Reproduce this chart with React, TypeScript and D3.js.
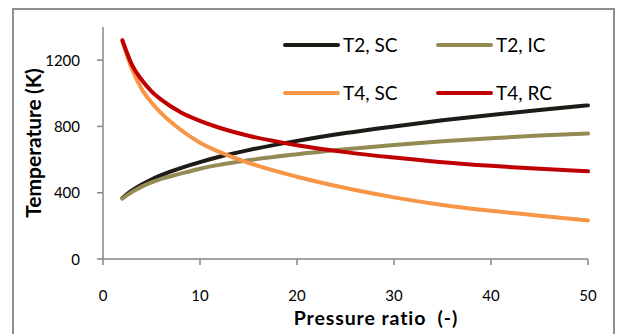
import { useRef, useEffect } from 'react';
import * as d3 from 'd3';

const W = 617;
const H = 334;
const M = { top: 27, right: 29, bottom: 75, left: 103 };

const pressureRatios = [2, 3, 4, 5, 6, 8, 10, 12, 15, 20, 25, 30, 35, 40, 45, 50];
const t2Sc = [368, 414, 450, 480, 506, 549, 585, 617, 657, 713, 760, 800, 837, 869, 899, 927];
const t2Ic = [365, 405, 437, 462, 483, 515, 545, 568, 596, 632, 662, 688, 710, 729, 745, 758];
const t4Sc = [1312, 1145, 1025, 945, 880, 780, 702, 646, 580, 496, 428, 372, 326, 291, 261, 233];
const t4Rc = [1320, 1170, 1080, 1012, 962, 886, 834, 792, 744, 687, 645, 612, 584, 562, 544, 529];

const seriesNames = ['T2, SC', 'T2, IC', 'T4, SC', 'T4, RC'];
const seriesColors = ['#1e1a16', '#948a54', '#f79646', '#c00000'];
const seriesValues = [t2Sc, t2Ic, t4Sc, t4Rc];

const xTicks = [0, 10, 20, 30, 40, 50];
const yTicks = [0, 400, 800, 1200];

const FONT = 'Lato, "Open Sans", sans-serif';

export default function App() {
  const svgRef = useRef<SVGSVGElement>(null);

  useEffect(() => {
    const svg = d3.select(svgRef.current);
    svg.selectAll('*').remove();

    const innerW = W - M.left - M.right;
    const innerH = H - M.top - M.bottom;

    svg.append('rect').attr('width', W).attr('height', H).attr('fill', '#fff');

    // outer frame (bottom edge sits below the picture)
    svg
      .append('rect')
      .attr('x', 13)
      .attr('y', 9)
      .attr('width', 601)
      .attr('height', 340)
      .attr('fill', 'none')
      .attr('stroke', '#8f8f8f')
      .attr('stroke-width', 2);

    const x = d3.scaleLinear().domain([0, 50]).range([M.left, M.left + innerW]);
    const y = d3.scaleLinear().domain([0, 1400]).range([M.top + innerH, M.top]);

    const axisColor = '#868686';

    // axes
    svg
      .append('line')
      .attr('x1', x(0))
      .attr('x2', x(0))
      .attr('y1', y(1400))
      .attr('y2', y(0))
      .attr('stroke', axisColor)
      .attr('stroke-width', 1.5);
    svg
      .append('line')
      .attr('x1', x(0))
      .attr('x2', x(50))
      .attr('y1', y(0))
      .attr('y2', y(0))
      .attr('stroke', axisColor)
      .attr('stroke-width', 1.5);

    yTicks.forEach((t) => {
      svg
        .append('line')
        .attr('x1', x(0) - 6)
        .attr('x2', x(0))
        .attr('y1', y(t))
        .attr('y2', y(t))
        .attr('stroke', axisColor)
        .attr('stroke-width', 1.5);
      svg
        .append('text')
        .attr('x', 80)
        .attr('y', y(t) + 5.5)
        .attr('text-anchor', 'end')
        .attr('fill', '#000')
        .attr('font-family', FONT)
        .attr('font-size', 15)
        .text(t);
    });

    xTicks.forEach((t) => {
      svg
        .append('line')
        .attr('x1', x(t))
        .attr('x2', x(t))
        .attr('y1', y(0))
        .attr('y2', y(0) + 6)
        .attr('stroke', axisColor)
        .attr('stroke-width', 1.5);
      svg
        .append('text')
        .attr('x', x(t))
        .attr('y', 301)
        .attr('text-anchor', 'middle')
        .attr('fill', '#000')
        .attr('font-family', FONT)
        .attr('font-size', 15)
        .text(t);
    });

    // axis titles
    svg
      .append('text')
      .attr('x', 376)
      .attr('y', 325)
      .attr('text-anchor', 'middle')
      .attr('font-family', FONT)
      .attr('font-weight', 700)
      .attr('font-size', 19.5)
      .attr('letter-spacing', 0.9)
      .style('white-space', 'pre')
      .text('Pressure ratio  (-)');

    svg
      .append('text')
      .attr('transform', 'rotate(-90)')
      .attr('x', -143)
      .attr('y', 41)
      .attr('text-anchor', 'middle')
      .attr('font-family', FONT)
      .attr('font-weight', 700)
      .attr('font-size', 21)
      .text('Temperature (K)');

    // series
    const line = d3
      .line<[number, number]>()
      .x((d) => x(d[0]))
      .y((d) => y(d[1]))
      .curve(d3.curveMonotoneX);

    seriesValues.forEach((vals, i) => {
      const pts = pressureRatios.map((p, j) => [p, vals[j]] as [number, number]);
      svg
        .append('path')
        .attr('d', line(pts))
        .attr('fill', 'none')
        .attr('stroke', seriesColors[i])
        .attr('stroke-width', 4)
        .attr('stroke-linecap', 'round')
        .attr('stroke-linejoin', 'round');
    });

    // legend
    const legendPos = [
      [285, 45],
      [438, 45],
      [285, 93],
      [438, 93],
    ];
    seriesNames.forEach((name, i) => {
      const [lx, ly] = legendPos[i];
      svg
        .append('line')
        .attr('x1', lx)
        .attr('x2', lx + 53)
        .attr('y1', ly)
        .attr('y2', ly)
        .attr('stroke', seriesColors[i])
        .attr('stroke-width', 4)
        .attr('stroke-linecap', 'round');
      svg
        .append('text')
        .attr('x', lx + 58)
        .attr('y', ly + 7)
        .attr('font-family', FONT)
        .attr('font-size', 19)
        .attr('fill', '#000')
        .text(name);
    });
  }, []);

  return (
    <svg
      ref={svgRef}
      width={W}
      height={H}
      style={{ position: 'absolute', left: 0, top: 0 }}
    />
  );
}
